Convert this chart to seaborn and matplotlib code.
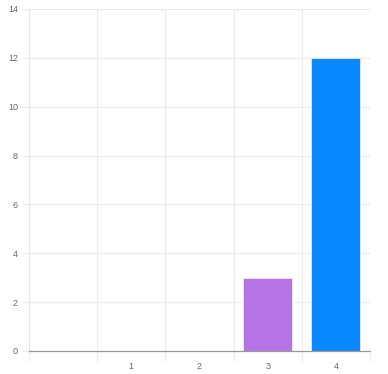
import matplotlib
matplotlib.use("Agg")
import matplotlib.pyplot as plt
import seaborn as sns
import pandas as pd
import numpy as np

categories = ["", "1", "2", "3", "4"]
values = [0, 0, 0, 3, 12]
colors = ["#cccccc", "#cccccc", "#cccccc", "#B574E6", "#0A88FF"]
y_ticks = [0, 2, 4, 6, 8, 10, 12, 14]

sns.set_theme(style="white")
plt.rcParams['font.family'] = ['Liberation Sans', 'DejaVu Sans']

df = pd.DataFrame({"cat": categories, "val": values})
fig = plt.figure(figsize=(3.88, 3.74), dpi=100)
ax = fig.add_axes([29/388, 23/374, 341/388, 342/374])
sns.barplot(data=df, x="cat", y="val", hue="cat", palette=colors, order=categories,
            width=0.72, legend=False, ax=ax, saturation=1, edgecolor="#e8e8e8", linewidth=0.6)

ax.set_ylim(0, 14)
ax.set_xlim(-0.5, len(categories) - 0.5)
ax.set_yticks(y_ticks)
ax.set_yticklabels([str(v) for v in y_ticks])
ax.set_xticks(range(len(categories)))
ax.set_xticklabels(categories)
ax.set_xticks(np.arange(len(categories) + 1) - 0.5, minor=True)
ax.set_xlabel("")
ax.set_ylabel("")

ax.grid(True, axis="y", color="#ebebeb", linewidth=0.8)
ax.grid(True, axis="x", which="minor", color="#ebebeb", linewidth=0.8)
ax.set_axisbelow(True)

ax.tick_params(axis="x", which="major", length=0, labelsize=6.5, labelcolor="#666666", pad=8)
ax.tick_params(axis="x", which="minor", length=7, color="#ebebeb", width=0.8, bottom=True)
ax.tick_params(axis="y", length=5, color="#ebebeb", width=0.8, labelsize=6.5, labelcolor="#666666", pad=3, left=True)

for s in ["top", "right"]:
    ax.spines[s].set_visible(False)
ax.spines["left"].set_color("#e6e6e6")
ax.spines["left"].set_linewidth(0.8)
ax.spines["bottom"].set_color("#999999")
ax.spines["bottom"].set_linewidth(0.9)

fig.savefig("out.png", dpi=100)
